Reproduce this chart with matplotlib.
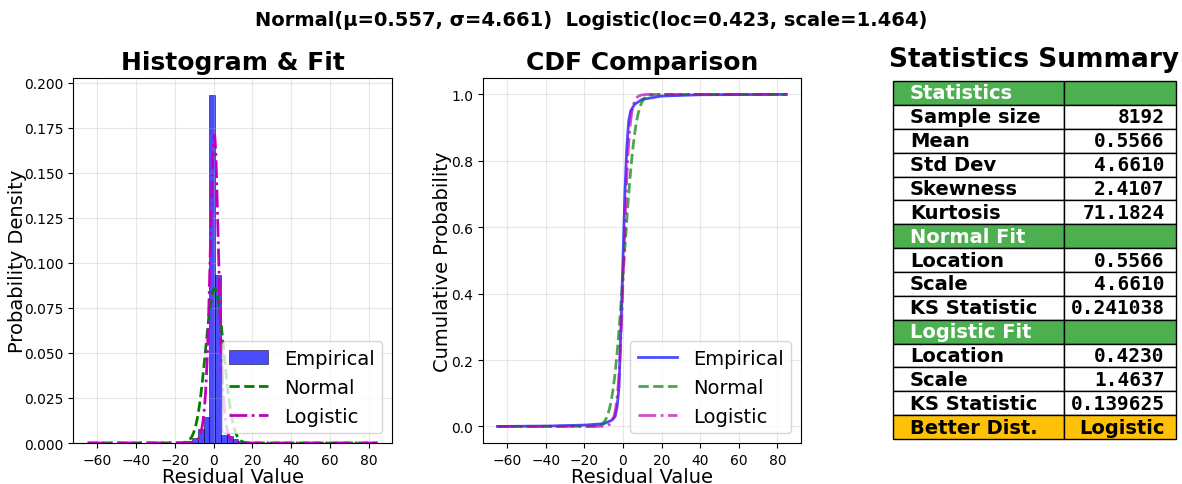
import math
import numpy as np
import matplotlib
matplotlib.use("Agg")
import matplotlib.pyplot as plt
from matplotlib.ticker import MultipleLocator

# fitted parameters
norm_mu, norm_sigma = 0.5566, 4.6610
logi_loc, logi_scale = 0.4230, 1.4637

# histogram (50 bins, density)
x_min, x_max, n_bins = -65.0, 84.7, 50
hist_density = {17: 0.001, 18: 0.003, 19: 0.008, 20: 0.0145, 21: 0.193,
                22: 0.093, 23: 0.0045, 24: 0.004, 25: 0.002, 26: 0.001}

# empirical CDF
ecdf_x = [-65, -40, -20, -10, -6, -4, -3, -2, -1, 0, 1, 2, 3, 4, 6, 10, 20, 40, 84.7]
ecdf_y = [0.0, 0.001, 0.004, 0.008, 0.018, 0.03, 0.06, 0.12, 0.3, 0.5, 0.7, 0.84,
          0.92, 0.95, 0.97, 0.985, 0.995, 0.999, 1.0]

# summary table
table_rows = [
    ["Statistics", ""],
    ["Sample size", "8192"],
    ["Mean", "0.5566"],
    ["Std Dev", "4.6610"],
    ["Skewness", "2.4107"],
    ["Kurtosis", "71.1824"],
    ["Normal Fit", ""],
    ["Location", "0.5566"],
    ["Scale", "4.6610"],
    ["KS Statistic", "0.241038"],
    ["Logistic Fit", ""],
    ["Location", "0.4230"],
    ["Scale", "1.4637"],
    ["KS Statistic", "0.139625"],
    ["Better Dist.", "Logistic"],
]
header_rows = [0, 6, 10]
best_row = 14

edges = np.linspace(x_min, x_max, n_bins + 1)
heights = np.zeros(n_bins)
for k, v in hist_density.items():
    heights[k] = v

xs = np.linspace(x_min, x_max, 1000)
norm_pdf = np.exp(-0.5 * ((xs - norm_mu) / norm_sigma) ** 2) / (norm_sigma * np.sqrt(2 * np.pi))
z = (xs - logi_loc) / logi_scale
logi_pdf = np.exp(-z) / (logi_scale * (1 + np.exp(-z)) ** 2)
norm_cdf = 0.5 * (1 + np.vectorize(math.erf)((xs - norm_mu) / (norm_sigma * np.sqrt(2))))
logi_cdf = 1 / (1 + np.exp(-z))

fig = plt.figure(figsize=(11.82, 4.85), dpi=100)
ax1 = fig.add_axes([0.0618, 0.0845, 0.27, 0.753])
ax2 = fig.add_axes([0.4086, 0.0845, 0.269, 0.753])
ax3 = fig.add_axes([0.7555, 0.0928, 0.2394, 0.738])

#histograma
ax1.bar(edges[:-1], heights, width=np.diff(edges), align="edge", color="blue",
        alpha=0.7, edgecolor="black", linewidth=0.5, label="Empirical")
ax1.plot(xs, norm_pdf, "g--", lw=2, label="Normal")
ax1.plot(xs, logi_pdf, "m-.", lw=2, label="Logistic")
ax1.set_title("Histogram & Fit", fontsize=18, fontweight="bold")
ax1.set_xlabel("Residual Value", fontsize=14)
ax1.set_ylabel("Probability Density", fontsize=14)
h, l = ax1.get_legend_handles_labels()
ax1.legend([h[2], h[0], h[1]], [l[2], l[0], l[1]], fontsize=14, loc="lower right")
ax1.grid(alpha=0.3)
ax1.xaxis.set_major_locator(MultipleLocator(20))
ax1.xaxis.set_label_coords(0.5, -0.066)
ax1.yaxis.set_label_coords(-0.144, 0.5)

#cdf
ax2.plot(ecdf_x, ecdf_y, "b-", lw=2, alpha=0.7, label="Empirical")
ax2.plot(xs, norm_cdf, "g--", lw=2, alpha=0.7, label="Normal")
ax2.plot(xs, logi_cdf, "m-.", lw=2, alpha=0.7, label="Logistic")
ax2.set_title("CDF Comparison", fontsize=18, fontweight="bold")
ax2.set_xlabel("Residual Value", fontsize=14)
ax2.set_ylabel("Cumulative Probability", fontsize=14)
ax2.legend(fontsize=14, loc="lower right")
ax2.grid(alpha=0.3)
ax2.xaxis.set_major_locator(MultipleLocator(20))
ax2.xaxis.set_label_coords(0.5, -0.066)
ax2.yaxis.set_label_coords(-0.097, 0.5)

#tabla
ax3.axis("off")
ax3.set_title("Statistics Summary", fontsize=19, fontweight="bold", pad=11)
tab = ax3.table(cellText=table_rows, bbox=[0, 0, 1, 1], colWidths=[0.605, 0.395])
tab.auto_set_font_size(False)
for (r, c), cell in tab.get_celld().items():
    txt = cell.get_text()
    txt.set_fontsize(14)
    txt.set_fontweight("bold")
    cell.set_linewidth(1)
    if c == 0:
        cell._loc = "left"
        txt.set_ha("left")
    else:
        cell._loc = "right"
        txt.set_ha("right")
        if r != best_row:
            txt.set_family("DejaVu Sans Mono")
    if r in header_rows:
        cell.set_facecolor("#4CAF50")
        txt.set_color("white")
    elif r == best_row:
        cell.set_facecolor("#FFC107")

fig.suptitle("Normal(\u03bc=0.557, \u03c3=4.661)  Logistic(loc=0.423, scale=1.464)",
             fontsize=14, fontweight="bold", y=0.977)

fig.savefig("out.png", dpi=100)
